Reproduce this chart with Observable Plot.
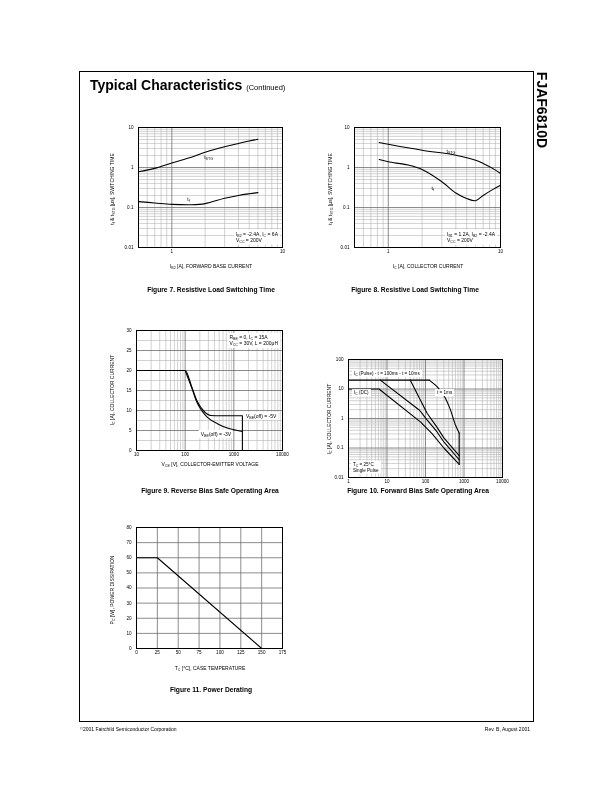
<!DOCTYPE html>
<html><head><meta charset="utf-8">
<script src="https://cdn.jsdelivr.net/npm/d3@7"></script>
<script src="https://cdn.jsdelivr.net/npm/@observablehq/plot@0.6"></script>
<style>
body{margin:0;background:#fff;font-family:"Liberation Sans",Arial,Helvetica,sans-serif;color:#000;}
#page{position:relative;width:612px;height:792px;overflow:hidden;background:#fff;color:#000;filter:grayscale(1);}
.abs{position:absolute;white-space:nowrap;line-height:1;color:#000;}
sub{font-size:72%;vertical-align:-0.3em;line-height:0;}
.box{background:#fff;padding:1px 2px;line-height:1.25;}
</style></head><body><div id="page"></div>
<script>
// ---------- DATA ----------
// Figure 7: Resistive load switching time vs I_B2
const f7_IB2 = [0.5, 0.7, 1, 1.5, 2, 3, 4, 5, 6];
const f7_tSTG = [0.78, 0.95, 1.3, 1.8, 2.4, 3.3, 4.0, 4.6, 5.1];
const f7_tf = [0.14, 0.13, 0.12, 0.117, 0.125, 0.17, 0.2, 0.22, 0.235];
// Figure 8: Resistive load switching time vs I_C
const f8_IC_stg = [0.83, 1, 2, 4, 6, 7, 8.5, 10];
const f8_tSTG = [4.2, 3.8, 2.7, 2.03, 1.52, 1.26, 0.95, 0.71];
const f8_IC_tf = [0.83, 1, 1.5, 2, 3, 4, 5, 6, 7, 8.5, 10];
const f8_tf = [1.58, 1.39, 1.15, 0.89, 0.44, 0.23, 0.168, 0.148, 0.2, 0.28, 0.36];
// Figure 9: Reverse bias SOA
const f9_VCE_5V = [10, 100, 140, 180, 246, 338, 500, 1500, 1500];
const f9_IC_5V = [20, 20, 15.5, 12.1, 9.75, 8.75, 8.7, 8.7, 0];
const f9_VCE_3V = [100, 140, 180, 287, 460, 740, 1190, 1500];
const f9_IC_3V = [20, 15.3, 11.7, 8.3, 6.7, 5.6, 5.0, 4.75];
// Figure 10: Forward bias SOA
const f10_pulse_V = [1, 125];
const f10_pulse_I = [20, 20];
const f10_dc_V = [1, 6.2, 75, 150, 300, 750];
const f10_dc_I = [10, 10, 0.75, 0.3, 0.1, 0.028];
const f10_100ms_V = [6.7, 70, 110, 200, 300, 750];
const f10_100ms_I = [20, 1.9, 0.9, 0.35, 0.16, 0.04];
const f10_10ms_V = [40, 110, 200, 300, 750];
const f10_10ms_I = [20, 1.5, 0.5, 0.22, 0.055];
const f10_1ms_V = [125, 200, 300, 430, 600, 750];
const f10_1ms_I = [20, 12, 6, 2.2, 0.6, 0.32];
const f10_limit_V = [750, 750];
const f10_limit_I = [0.32, 0.028];
// Figure 11: Power derating
const f11_TC = [0, 25, 150];
const f11_PC = [60, 60, 0];
// Tick labels
const ticksDec01_10 = [0.01, 0.1, 1, 10];
const ticksX1_10 = [1, 10];
const ticksV = [10, 100, 1000, 10000];
const ticksI30 = [0, 5, 10, 15, 20, 25, 30];
const ticksV1 = [1, 10, 100, 1000, 10000];
const ticksI100 = [0.01, 0.1, 1, 10, 100];
const ticksT = [0, 25, 50, 75, 100, 125, 150, 175];
const ticksP = [0, 10, 20, 30, 40, 50, 60, 70, 80];

// ---------- helpers ----------
const page = document.getElementById("page");
const FONT = '"Liberation Sans",Arial,Helvetica,sans-serif';
function txt(html, x, y, o = {}) {
  const d = document.createElement("div");
  d.className = "abs" + (o.cls ? " " + o.cls : "");
  d.innerHTML = html;
  d.style.left = x + "px"; d.style.top = y + "px";
  d.style.fontSize = (o.size || 5) + "px";
  if (o.bold) d.style.fontWeight = "bold";
  const ax = o.ax ?? -50, ay = o.ay ?? -50;
  if (o.rot) { d.style.transformOrigin = "0 0"; d.style.transform = `rotate(${o.rot}deg) translate(${ax}%,${ay}%)`; }
  else d.style.transform = `translate(${ax}%,${ay}%)`;
  page.appendChild(d);
  return d;
}
function logGrid(lo, hi) {
  const minor = [], major = [];
  for (let e = Math.floor(Math.log10(lo)); e < Math.ceil(Math.log10(hi)); e++) {
    for (let m = 1; m < 10; m++) {
      const v = +(m * Math.pow(10, e)).toPrecision(6);
      if (v <= lo || v >= hi) continue;
      (m === 1 ? major : minor).push(v);
    }
  }
  return {minor, major};
}
const pts = (xs, ys) => xs.map((x, i) => ({x, y: ys[i]}));
const ML = 34, MR = 16, MT = 8, MB = 14;
function chart(frame, xo, yo, marks) {
  const [L, T, R, B] = frame;
  const p = Plot.plot({
    width: R - L + ML + MR, height: B - T + MT + MB,
    marginLeft: ML, marginRight: MR, marginTop: MT, marginBottom: MB,
    x: {...xo, label: null}, y: {...yo, label: null},
    style: {fontSize: "4.6px", fontFamily: FONT, color: "#000", background: "transparent", overflow: "visible"},
    marks
  });
  p.style.position = "absolute"; p.style.left = (L - ML) + "px"; p.style.top = (T - MT) + "px";
  page.appendChild(p);
  const sx = p.scale("x"), sy = p.scale("y");
  return {X: v => L - ML + sx.apply(v), Y: v => T - MT + sy.apply(v), L, T, R, B};
}
const fmt = d => String(d);
const minorStyle = {stroke: "#b4b4b4", strokeWidth: 0.6};
const majorStyle = {stroke: "#6e6e6e", strokeWidth: 0.8};
const curve = {x: "x", y: "y", stroke: "#000", strokeWidth: 1.1, curve: "catmull-rom"};
const straight = {x: "x", y: "y", stroke: "#000", strokeWidth: 1.1};
function axes(xt, yt) {
  return [
    Plot.axisX({ticks: xt, tickSize: 0, tickPadding: 2.5, tickFormat: fmt, label: null, fill: "#000"}),
    Plot.axisY({ticks: yt, tickSize: 0, tickPadding: 5, tickFormat: fmt, label: null, fill: "#000"})
  ];
}

// ---------- page frame & titles ----------
const border = document.createElement("div");
Object.assign(border.style, {position: "absolute", left: "79px", top: "71px", width: "453px", height: "649px", border: "1px solid #000"});
page.appendChild(border);
txt('<b>Typical Characteristics</b> <span style="font-size:7.5px">(Continued)</span>', 90, 85, {size: 14, ax: 0});
txt("FJAF6810D", 542, 110, {size: 14, bold: true, rot: 90, ax: -50, ay: -50});
txt('<span style="font-size:80%;vertical-align:0.2em">©</span>2001 Fairchild Semiconductor Corporation', 80, 729, {size: 5, ax: 0});
txt("Rev. B, August 2001", 530, 729, {size: 5, ax: -100});

// ---------- Figure 7 ----------
{
  const gx = logGrid(0.5, 10), gy = logGrid(0.01, 10);
  const c = chart([138, 127, 282, 247], {type: "log", domain: [0.5, 10]}, {type: "log", domain: [0.01, 10]}, [
    Plot.ruleX(gx.minor, minorStyle), Plot.ruleY(gy.minor, minorStyle),
    Plot.ruleX(gx.major, majorStyle), Plot.ruleY(gy.major, majorStyle),
    ...axes(ticksX1_10, ticksDec01_10),
    Plot.line(pts(f7_IB2, f7_tSTG), curve),
    Plot.line(pts(f7_IB2, f7_tf), curve),
    Plot.frame({stroke: "#000", strokeWidth: 1})
  ]);
  txt("t<sub>STG</sub>", c.X(2.17), c.Y(1.78), {size: 5});
  txt("t<sub>f</sub>", c.X(1.43), c.Y(0.158), {size: 5});
  txt("I<sub>B2</sub> = -2.4A, I<sub>C</sub> = 6A<br>V<sub>CC</sub> = 200V", c.R - 2, c.B - 3, {size: 5, ax: -100, ay: -100, cls: "box"});
  txt("t<sub>f</sub> &amp; t<sub>STG</sub> [μs], SWITCHING TIME", 112, 189, {size: 5, rot: -90});
  txt("I<sub>B2</sub> [A], FORWARD BASE CURRENT", 211, 266, {size: 5});
  txt("Figure 7. Resistive Load Switching Time", 211, 290, {size: 6.7, bold: true});
}
// ---------- Figure 8 ----------
{
  const gx = logGrid(0.5, 10), gy = logGrid(0.01, 10);
  const c = chart([354, 127, 500, 247], {type: "log", domain: [0.5, 10]}, {type: "log", domain: [0.01, 10]}, [
    Plot.ruleX(gx.minor, minorStyle), Plot.ruleY(gy.minor, minorStyle),
    Plot.ruleX(gx.major, majorStyle), Plot.ruleY(gy.major, majorStyle),
    ...axes(ticksX1_10, ticksDec01_10),
    Plot.line(pts(f8_IC_stg, f8_tSTG), curve),
    Plot.line(pts(f8_IC_tf, f8_tf), curve),
    Plot.frame({stroke: "#000", strokeWidth: 1})
  ]);
  txt("t<sub>STG</sub>", c.X(3.65), c.Y(2.5), {size: 5});
  txt("t<sub>f</sub>", c.X(2.52), c.Y(0.3), {size: 5});
  txt("I<sub>B1</sub> = 1.2A, I<sub>B2</sub> = -2.4A<br>V<sub>CC</sub> = 200V", c.R - 3, c.B - 3, {size: 5, ax: -100, ay: -100, cls: "box"});
  txt("t<sub>f</sub> &amp; t<sub>STG</sub> [μs], SWITCHING TIME", 330, 189, {size: 5, rot: -90});
  txt("I<sub>C</sub> [A], COLLECTOR CURRENT", 428, 266, {size: 5});
  txt("Figure 8. Resistive Load Switching Time", 415, 290, {size: 6.7, bold: true});
}
// ---------- Figure 9 ----------
{
  const gx = logGrid(10, 10000);
  const gyMinor = [2.5, 7.5, 12.5, 17.5, 22.5, 27.5];
  const c = chart([136, 330, 282, 450], {type: "log", domain: [10, 10000]}, {type: "linear", domain: [0, 30]}, [
    Plot.ruleX(gx.minor, minorStyle), Plot.ruleY(gyMinor, minorStyle),
    Plot.ruleX(gx.major, majorStyle), Plot.ruleY(ticksI30.slice(1, -1), majorStyle),
    ...axes(ticksV, ticksI30),
    Plot.line(pts(f9_VCE_5V, f9_IC_5V), {...straight, curve: "monotone-x"}),
    Plot.line(pts(f9_VCE_3V, f9_IC_3V), curve),
    Plot.frame({stroke: "#000", strokeWidth: 1})
  ]);
  txt("R<sub>BE</sub> = 0, I<sub>C</sub> = 15A<br>V<sub>CC</sub> = 30V, L = 200μH", c.R - 2, c.T + 3, {size: 5, ax: -100, ay: 0, cls: "box"});
  txt("V<sub>BE</sub>(off) = -5V", c.X(1500) + 2, c.Y(8.5), {size: 5, ax: 0, cls: "box"});
  txt("V<sub>BE</sub>(off) = -3V", c.X(440), c.Y(4), {size: 5, cls: "box"});
  txt("I<sub>C</sub> [A], COLLECTOR CURRENT", 112, 390, {size: 5, rot: -90});
  txt("V<sub>CE</sub> [V], COLLECTOR-EMITTER VOLTAGE", 210, 464, {size: 5});
  txt("Figure 9. Reverse Bias Safe Operating Area", 210, 491, {size: 6.7, bold: true});
}
// ---------- Figure 10 ----------
{
  const gx = logGrid(1, 10000), gy = logGrid(0.01, 100);
  const c = chart([348, 359, 502, 477], {type: "log", domain: [1, 10000]}, {type: "log", domain: [0.01, 100]}, [
    Plot.ruleX(gx.minor, minorStyle), Plot.ruleY(gy.minor, minorStyle),
    Plot.ruleX(gx.major, majorStyle), Plot.ruleY(gy.major, majorStyle),
    ...axes(ticksV1, ticksI100),
    Plot.line(pts(f10_pulse_V, f10_pulse_I), straight),
    Plot.line(pts(f10_dc_V, f10_dc_I), straight),
    Plot.line(pts(f10_100ms_V, f10_100ms_I), straight),
    Plot.line(pts(f10_10ms_V, f10_10ms_I), straight),
    Plot.line(pts(f10_1ms_V, f10_1ms_I), curve),
    Plot.line(pts(f10_limit_V, f10_limit_I), straight),
    Plot.frame({stroke: "#000", strokeWidth: 1})
  ]);
  txt("I<sub>C</sub> (Pulse) - t = 100ms - t = 10ms", c.L + 4, c.Y(32), {size: 4.6, ax: 0, cls: "box"});
  txt("I<sub>C</sub> (DC)", c.L + 4, c.Y(7.3), {size: 4.6, ax: 0, cls: "box"});
  txt("t = 1ms", c.X(182), c.Y(7.3), {size: 4.6, ax: 0, cls: "box"});
  txt("T<sub>C</sub> = 25°C<br>Single Pulse", c.L + 3, c.B - 3, {size: 4.6, ax: 0, ay: -100, cls: "box"});
  txt("I<sub>C</sub> [A], COLLECTOR CURRENT", 329, 419, {size: 5, rot: -90});
  txt("Figure 10. Forward Bias Safe Operating Area", 418, 491, {size: 6.7, bold: true});
}
// ---------- Figure 11 ----------
{
  const c = chart([136, 527, 282, 648], {type: "linear", domain: [0, 175]}, {type: "linear", domain: [0, 80]}, [
    Plot.ruleX(ticksT.slice(1, -1), majorStyle), Plot.ruleY(ticksP.slice(1, -1), majorStyle),
    ...axes(ticksT, ticksP),
    Plot.line(pts(f11_TC, f11_PC), straight),
    Plot.frame({stroke: "#000", strokeWidth: 1})
  ]);
  txt("P<sub>C</sub> [W], POWER DISSIPATION", 112, 590, {size: 5, rot: -90});
  txt("T<sub>C</sub> [°C], CASE TEMPERATURE", 210, 668, {size: 5});
  txt("Figure 11. Power Derating", 211, 690, {size: 6.7, bold: true});
}
</script></body></html>
